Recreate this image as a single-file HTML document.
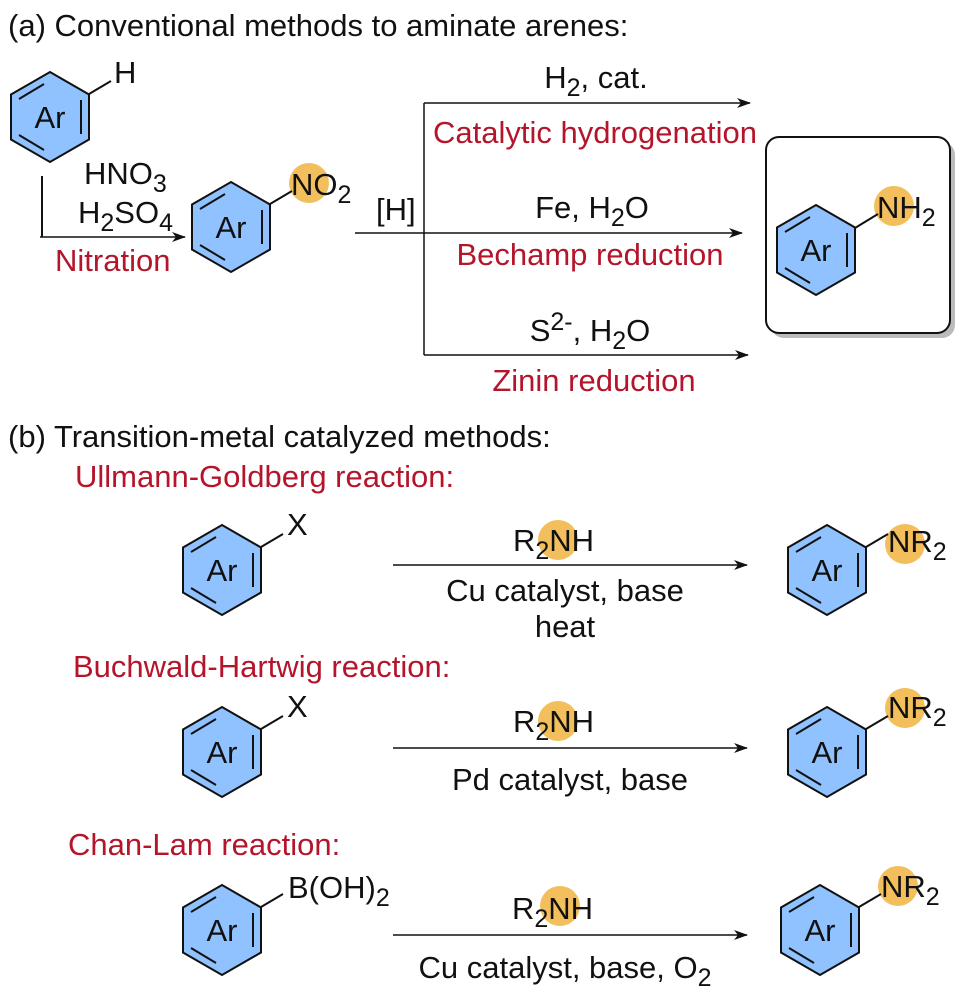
<!DOCTYPE html>
<html><head><meta charset="utf-8"><style>
html,body{margin:0;padding:0;background:#fff}
svg{display:block}
text{font-family:"Liberation Sans",Arial,sans-serif;font-size:31px;fill:#111}
.r{fill:#b5152b}
</style></head><body>
<svg width="968" height="998" viewBox="0 0 968 998" xmlns="http://www.w3.org/2000/svg">
<defs>
<g id="ring">
<polygon points="0,-45 39,-22.5 39,22.5 0,45 -39,22.5 -39,-22.5" fill="#8fc2ff" stroke="#111" stroke-width="2"/>
<line x1="31" y1="-17" x2="31" y2="17" stroke="#111" stroke-width="2"/>
<line x1="-31" y1="-18" x2="-6" y2="-33" stroke="#111" stroke-width="2"/>
<line x1="-31" y1="18" x2="-6" y2="33" stroke="#111" stroke-width="2"/>
</g>
<marker id="ah" markerWidth="14" markerHeight="10" refX="13" refY="5" orient="auto" markerUnits="userSpaceOnUse">
<path d="M0,0 L14,5 L0,10 L4,5 Z" fill="#111"/>
</marker>
</defs>

<text x="8" y="36">(a) Conventional methods to aminate arenes:</text>

<use href="#ring" x="50" y="117"/>
<text x="50" y="128" text-anchor="middle">Ar</text>
<line x1="89" y1="94" x2="111" y2="81" stroke="#111" stroke-width="2"/>
<text x="114" y="83">H</text>

<line x1="42" y1="176" x2="42" y2="237" stroke="#111" stroke-width="2"/>
<line x1="40" y1="237" x2="185" y2="237" stroke="#111" stroke-width="1.5" marker-end="url(#ah)"/>
<text x="84" y="184">HNO<tspan font-size="25" dy="8">3</tspan></text>
<text x="78" y="223">H<tspan font-size="25" dy="8">2</tspan><tspan dy="-8">SO</tspan><tspan font-size="25" dy="8">4</tspan></text>
<text x="55" y="271" class="r">Nitration</text>

<use href="#ring" x="231" y="227"/>
<text x="231" y="238" text-anchor="middle">Ar</text>
<circle cx="309" cy="183" r="20" fill="#f3bf5c"/>
<line x1="270" y1="204" x2="292" y2="191" stroke="#111" stroke-width="2"/>
<text x="291" y="195">NO<tspan font-size="25" dy="8">2</tspan></text>

<text x="376" y="220">[H]</text>
<line x1="355" y1="233" x2="742" y2="233" stroke="#111" stroke-width="1.5" marker-end="url(#ah)"/>
<line x1="424" y1="103" x2="424" y2="355" stroke="#111" stroke-width="1.5"/>
<line x1="424" y1="103" x2="750" y2="103" stroke="#111" stroke-width="1.5" marker-end="url(#ah)"/>
<line x1="424" y1="355" x2="748" y2="355" stroke="#111" stroke-width="1.5" marker-end="url(#ah)"/>
<text x="596" y="88" text-anchor="middle">H<tspan font-size="25" dy="8">2</tspan><tspan dy="-8">, cat.</tspan></text>
<text x="595" y="143" text-anchor="middle" class="r">Catalytic hydrogenation</text>
<text x="592" y="218" text-anchor="middle">Fe, H<tspan font-size="25" dy="8">2</tspan><tspan dy="-8">O</tspan></text>
<text x="590" y="265" text-anchor="middle" class="r">Bechamp reduction</text>
<text x="590" y="341" text-anchor="middle">S<tspan font-size="25" dy="-11">2-</tspan><tspan dy="11">, H</tspan><tspan font-size="25" dy="8">2</tspan><tspan dy="-8">O</tspan></text>
<text x="594" y="391" text-anchor="middle" class="r">Zinin reduction</text>

<rect x="771" y="142" width="184" height="196" rx="13" fill="#bbb"/>
<rect x="766" y="137" width="184" height="196" rx="13" fill="#fff" stroke="#111" stroke-width="2"/>
<use href="#ring" x="816" y="250"/>
<text x="816" y="261" text-anchor="middle">Ar</text>
<circle cx="894" cy="206" r="20" fill="#f3bf5c"/>
<line x1="855" y1="228" x2="878" y2="214" stroke="#111" stroke-width="2"/>
<text x="877" y="218">NH<tspan font-size="25" dy="8">2</tspan></text>

<text x="8" y="447">(b) Transition-metal catalyzed methods:</text>
<text x="75" y="487" class="r">Ullmann-Goldberg reaction:</text>

<use href="#ring" x="222" y="570"/>
<text x="222" y="581" text-anchor="middle">Ar</text>
<line x1="261" y1="547" x2="283" y2="534" stroke="#111" stroke-width="2"/>
<text x="287" y="535">X</text>
<circle cx="558" cy="540" r="20" fill="#f3bf5c"/>
<text x="513" y="551">R<tspan font-size="25" dy="8">2</tspan><tspan dy="-8">NH</tspan></text>
<line x1="393" y1="565" x2="747" y2="565" stroke="#111" stroke-width="1.5" marker-end="url(#ah)"/>
<text x="565" y="601" text-anchor="middle">Cu catalyst, base</text>
<text x="565" y="637" text-anchor="middle">heat</text>
<use href="#ring" x="827" y="570"/>
<text x="827" y="581" text-anchor="middle">Ar</text>
<circle cx="905" cy="544" r="20" fill="#f3bf5c"/>
<line x1="866" y1="547" x2="888" y2="534" stroke="#111" stroke-width="2"/>
<text x="888" y="552">NR<tspan font-size="25" dy="8">2</tspan></text>

<text x="73" y="677" class="r">Buchwald-Hartwig reaction:</text>
<use href="#ring" x="222" y="752"/>
<text x="222" y="763" text-anchor="middle">Ar</text>
<line x1="261" y1="729" x2="283" y2="716" stroke="#111" stroke-width="2"/>
<text x="287" y="717">X</text>
<circle cx="558" cy="721" r="20" fill="#f3bf5c"/>
<text x="513" y="732">R<tspan font-size="25" dy="8">2</tspan><tspan dy="-8">NH</tspan></text>
<line x1="393" y1="748" x2="747" y2="748" stroke="#111" stroke-width="1.5" marker-end="url(#ah)"/>
<text x="570" y="790" text-anchor="middle">Pd catalyst, base</text>
<use href="#ring" x="827" y="752"/>
<text x="827" y="763" text-anchor="middle">Ar</text>
<circle cx="905" cy="708" r="20" fill="#f3bf5c"/>
<line x1="866" y1="729" x2="888" y2="716" stroke="#111" stroke-width="2"/>
<text x="888" y="718">NR<tspan font-size="25" dy="8">2</tspan></text>

<text x="68" y="855" class="r">Chan-Lam reaction:</text>
<use href="#ring" x="222" y="930"/>
<text x="222" y="941" text-anchor="middle">Ar</text>
<line x1="261" y1="907" x2="283" y2="894" stroke="#111" stroke-width="2"/>
<text x="288" y="898">B(OH)<tspan font-size="25" dy="8">2</tspan></text>
<circle cx="560" cy="906" r="20" fill="#f3bf5c"/>
<text x="512" y="919">R<tspan font-size="25" dy="8">2</tspan><tspan dy="-8">NH</tspan></text>
<line x1="393" y1="935" x2="747" y2="935" stroke="#111" stroke-width="1.5" marker-end="url(#ah)"/>
<text x="565" y="978" text-anchor="middle">Cu catalyst, base, O<tspan font-size="25" dy="8">2</tspan></text>
<use href="#ring" x="820" y="930"/>
<text x="820" y="941" text-anchor="middle">Ar</text>
<circle cx="898" cy="886" r="20" fill="#f3bf5c"/>
<line x1="859" y1="907" x2="881" y2="894" stroke="#111" stroke-width="2"/>
<text x="881" y="897">NR<tspan font-size="25" dy="8">2</tspan></text>
</svg>
</body></html>
